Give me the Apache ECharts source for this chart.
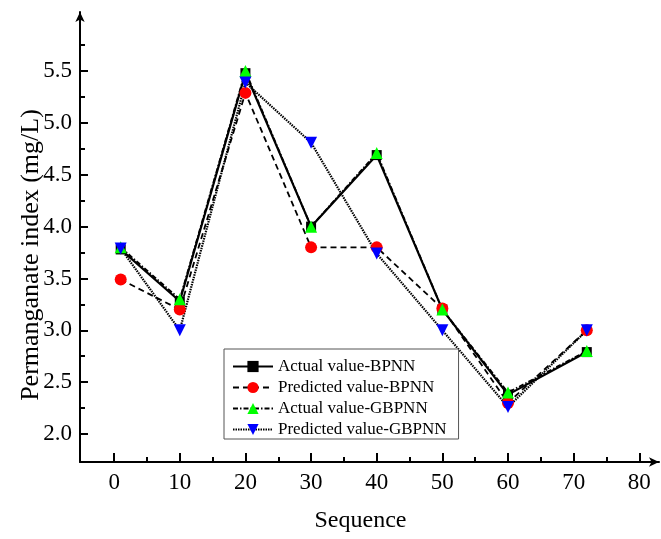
<!DOCTYPE html>
<html>
<head>
<meta charset="utf-8">
<script src="https://cdn.jsdelivr.net/npm/echarts@6/dist/echarts.min.js"></script>
<style>
  html, body { margin: 0; padding: 0; background: #fff; }
  #chart { width: 661px; height: 539px; }
</style>
</head>
<body>
<div id="chart"></div>
<script>
// sequence positions of the samples
const seqX = [1, 10, 20, 30, 40, 50, 60, 72];
const actualBP = [3.78, 3.28, 5.48, 4.0, 4.69, 3.2, 2.38, 2.79];
const predBP = [3.49, 3.2, 5.29, 3.8, 3.8, 3.21, 2.3, 3.0];
const actualGB = [3.8, 3.3, 5.5, 4.0, 4.71, 3.2, 2.4, 2.8];
const predGB = [3.79, 3.0, 5.39, 4.81, 3.74, 3.0, 2.26, 3.0];

const xMajor = [0, 10, 20, 30, 40, 50, 60, 70, 80];
const xMinor = [5, 15, 25, 35, 45, 55, 65, 75];
const yMajor = [2.0, 2.5, 3.0, 3.5, 4.0, 4.5, 5.0, 5.5];
const yMinor = [2.25, 2.75, 3.25, 3.75, 4.25, 4.75, 5.25, 5.75];

const names = ['Actual value-BPNN', 'Predicted value-BPNN', 'Actual value-GBPNN', 'Predicted value-GBPNN'];

const font = 'Liberation Serif';
const pairs = vals => seqX.map((x, i) => [x, vals[i]]);

const chart = echarts.init(document.getElementById('chart'));

const xBase = { type: 'value', min: -5.2, max: 83, gridIndex: 0, position: 'bottom', splitLine: { show: false } };
const yBase = { type: 'value', min: 1.73, max: 6.07, gridIndex: 0, position: 'left', splitLine: { show: false } };

const option = {
  animation: false,
  backgroundColor: '#fff',
  grid: { left: 80, right: 2, top: 12, bottom: 77, containLabel: false, outerBoundsMode: 'none' },
  xAxis: [
    Object.assign({}, xBase, {
      name: 'Sequence',
      nameLocation: 'middle',
      nameGap: 47,
      nameMoveOverlap: false,
      nameTextStyle: { fontFamily: font, fontSize: 24, color: '#000', padding: [0, 18, 0, 0] },
      axisLine: { show: true, onZero: false, lineStyle: { color: '#000', width: 2 }, symbol: ['none', 'arrow'], symbolSize: [7, 10] },
      axisTick: { show: true, inside: true, length: 9, customValues: xMajor, lineStyle: { color: '#000', width: 2 } },
      axisLabel: { customValues: xMajor, margin: 9, fontFamily: font, fontSize: 23, color: '#000' }
    }),
    Object.assign({}, xBase, {
      axisLine: { show: false, onZero: false },
      axisTick: { show: true, inside: true, length: 5, customValues: xMinor, lineStyle: { color: '#000', width: 2 } },
      axisLabel: { show: false }
    })
  ],
  yAxis: [
    Object.assign({}, yBase, {
      name: 'Permanganate index (mg/L)',
      nameLocation: 'middle',
      nameGap: 36,
      nameMoveOverlap: false,
      nameTextStyle: { fontFamily: font, fontSize: 26, color: '#000', padding: [0, 36, 0, 0] },
      axisLine: { show: true, onZero: false, lineStyle: { color: '#000', width: 2 }, symbol: ['none', 'arrow'], symbolSize: [7, 10] },
      axisTick: { show: true, inside: true, length: 8, customValues: yMajor, lineStyle: { color: '#000', width: 2 } },
      axisLabel: { customValues: yMajor, margin: 8, fontFamily: font, fontSize: 23, color: '#000',
        formatter: v => v.toFixed(1) }
    }),
    Object.assign({}, yBase, {
      axisLine: { show: false, onZero: false },
      axisTick: { show: true, inside: true, length: 5, customValues: yMinor, lineStyle: { color: '#000', width: 2 } },
      axisLabel: { show: false }
    })
  ],
  legend: {
    orient: 'vertical',
    left: 224,
    top: 349,
    padding: [9, 12, 1, 8],
    itemGap: 4,
    itemWidth: 40,
    itemHeight: 14,
    borderColor: '#555',
    borderWidth: 1,
    backgroundColor: '#fff',
    textStyle: { fontFamily: font, fontSize: 17, color: '#000', lineHeight: 17 },
    data: names
  },
  series: [
    {
      name: names[0], type: 'line', data: pairs(actualBP),
      symbol: 'rect', symbolSize: 10,
      itemStyle: { color: '#000' },
      lineStyle: { color: '#000', width: 2.2, type: 'solid' }
    },
    {
      name: names[1], type: 'line', data: pairs(predBP),
      symbol: 'circle', symbolSize: 12,
      itemStyle: { color: '#ff0000' },
      lineStyle: { color: '#000', width: 1.8, type: [6, 4] }
    },
    {
      name: names[2], type: 'line', data: pairs(actualGB),
      symbol: 'triangle', symbolSize: 12,
      itemStyle: { color: '#00ff00' },
      lineStyle: { color: '#000', width: 1.8, type: [5, 2, 1.5, 2] }
    },
    {
      name: names[3], type: 'line', data: pairs(predGB),
      symbol: 'triangle', symbolRotate: 180, symbolSize: 12,
      itemStyle: { color: '#0000ff' },
      lineStyle: { color: '#000', width: 2.2, type: [1.5, 1] }
    }
  ]
};

chart.setOption(option);
</script>
</body>
</html>
